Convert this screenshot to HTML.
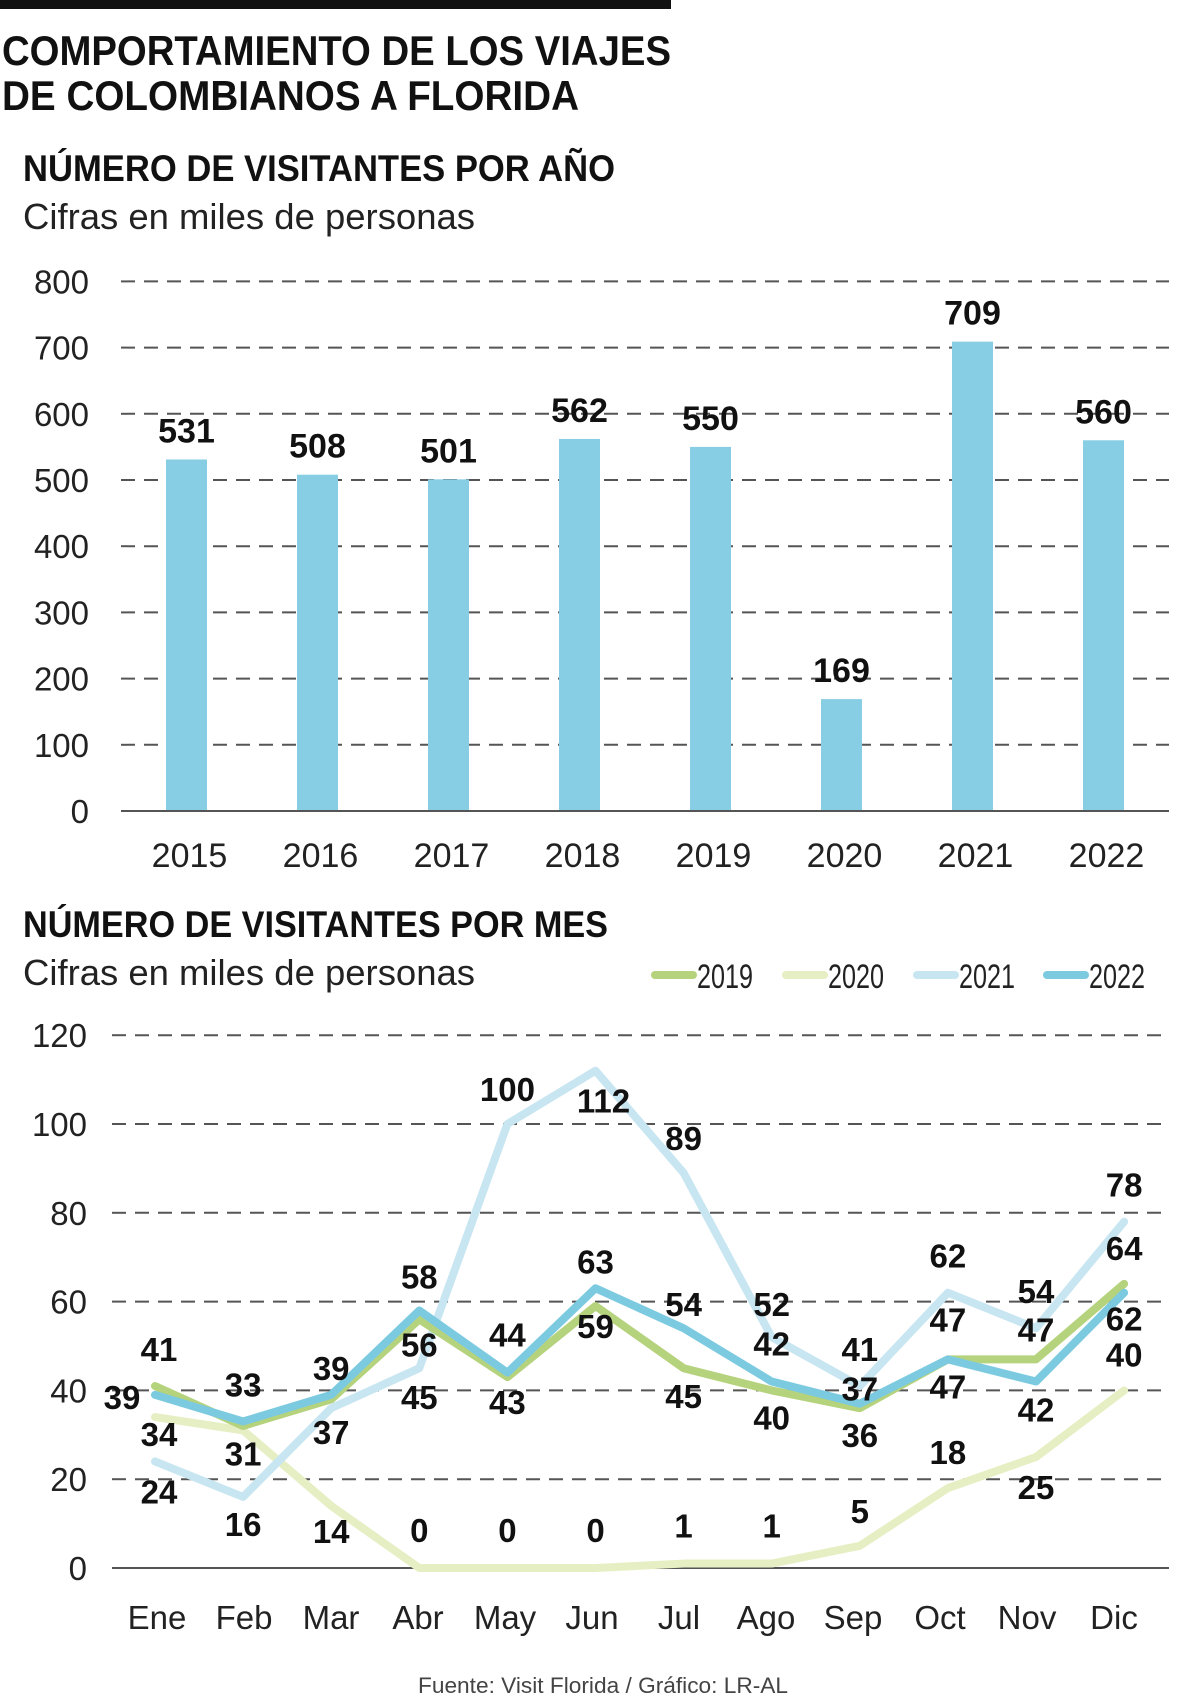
<!DOCTYPE html>
<html><head><meta charset="utf-8">
<style>
html,body{margin:0;padding:0;background:#fff;}
svg{display:block;font-family:"Liberation Sans",sans-serif;}
</style></head>
<body>
<svg id="chart" width="1200" height="1696" viewBox="0 0 1200 1696" xmlns="http://www.w3.org/2000/svg">
<rect x="0" y="0" width="671" height="9" fill="#111"/>
<text x="2" y="65" font-size="42" font-weight="bold" textLength="669" lengthAdjust="spacingAndGlyphs" fill="#111">COMPORTAMIENTO DE LOS VIAJES</text>
<text x="2" y="110" font-size="42" font-weight="bold" textLength="577" lengthAdjust="spacingAndGlyphs" fill="#111">DE COLOMBIANOS A FLORIDA</text>
<text x="23" y="181" font-size="37" font-weight="bold" textLength="592" lengthAdjust="spacingAndGlyphs" fill="#111">NÚMERO DE VISITANTES POR AÑO</text>
<text x="23" y="229" font-size="36" textLength="452" lengthAdjust="spacingAndGlyphs" fill="#222">Cifras en miles de personas</text>
<text x="23" y="937" font-size="37" font-weight="bold" textLength="585" lengthAdjust="spacingAndGlyphs" fill="#111">NÚMERO DE VISITANTES POR MES</text>
<text x="23" y="985" font-size="36" textLength="452" lengthAdjust="spacingAndGlyphs" fill="#222">Cifras en miles de personas</text>
<g id="bars"></g>
<g id="lines"></g>
<text x="603" y="1693" font-size="22" text-anchor="middle" textLength="370" lengthAdjust="spacingAndGlyphs" fill="#444">Fuente: Visit Florida / Gráfico: LR-AL</text>
</svg>
<script>
const years = ["2015","2016","2017","2018","2019","2020","2021","2022"];
const yearValues = [531,508,501,562,550,169,709,560];
const barTicks = [0,100,200,300,400,500,600,700,800];

const months = ["Ene","Feb","Mar","Abr","May","Jun","Jul","Ago","Sep","Oct","Nov","Dic"];
const v2019 = [41,32,38,56,43,59,45,40,36,47,47,64];
const v2020 = [34,31,14,0,0,0,1,1,5,18,25,40];
const v2021 = [24,16,36,45,100,112,89,52,41,62,54,78];
const v2022 = [39,33,39,58,44,63,54,42,37,47,42,62];
const lineTicks = [0,20,40,60,80,100,120];
const lab2019 = [41,null,null,56,43,59,45,40,36,47,47,64];
const lab2020 = [34,31,14,0,0,0,1,1,5,18,25,40];
const lab2021 = [24,16,37,45,100,112,89,52,41,62,54,78];
const lab2022 = [39,33,39,58,44,63,54,42,37,47,42,62];

const NS="http://www.w3.org/2000/svg";
function mk(tag, attrs, parent){const e=document.createElementNS(NS,tag);for(const k in attrs)e.setAttribute(k,attrs[k]);parent.appendChild(e);return e;}

// ---- bar chart
const bg=document.getElementById('bars');
const bY0=811, bPer=0.662, bX0=186.5, bStep=131, bW=41, gridR=1169;
const by=v=>bY0-v*bPer, bx=i=>bX0+i*bStep;
barTicks.forEach(t=>{
  const l=mk('line',{x1:121,x2:gridR,y1:by(t),y2:by(t),stroke:'#555','stroke-width':2},bg);
  if(t!==0) l.setAttribute('stroke-dasharray','14 9');
  
  
  const tx=mk('text',{x:89,y:by(t)+12,'font-size':33,'text-anchor':'end',fill:'#222'},bg);
  tx.textContent=t;
  
  
});
yearValues.forEach((v,i)=>{
  const r=mk('rect',{x:bx(i)-bW/2,y:by(v),width:bW,height:v*bPer,fill:'#87cde3'},bg);
  
  
  const lt=mk('text',{x:bx(i),y:by(v)-17,'font-size':34,'font-weight':'bold','text-anchor':'middle',fill:'#111'},bg);
  lt.textContent=v;
  
  
  const xt=mk('text',{x:bx(i)+3,y:867,'font-size':34,'text-anchor':'middle',fill:'#222'},bg);
  xt.textContent=years[i];
  
  
});
const bb=mk('line',{x1:121,x2:gridR,y1:bY0,y2:bY0,stroke:'#555','stroke-width':2},bg);



// ---- line chart
const lg=document.getElementById('lines');
const lY0=1568, lPer=4.44, lX0=155, lStep=88.1, mStep=87;
const ly=v=>lY0-v*lPer, lx=i=>lX0+i*lStep, mx=i=>lX0+i*mStep;
lineTicks.forEach(t=>{
  const l=mk('line',{x1:112,x2:gridR,y1:ly(t),y2:ly(t),stroke:'#555','stroke-width':2},lg);
  if(t!==0) l.setAttribute('stroke-dasharray','14 9');
  
  
  const tx=mk('text',{x:87,y:ly(t)+12,'font-size':33,'text-anchor':'end',fill:'#222'},lg);
  tx.textContent=t;
  
  
});
months.forEach((m,i)=>{
  const tx=mk('text',{x:mx(i)+2,y:1629,'font-size':33,'text-anchor':'middle',fill:'#222'},lg);
  tx.textContent=m;
  
  
});
const series=[
  {name:'2020',vals:v2020,col:'#e6efc3'},
  {name:'2021',vals:v2021,col:'#c8e6f1'},
  {name:'2019',vals:v2019,col:'#b5d27c'},
  {name:'2022',vals:v2022,col:'#7ccae0'}
];
series.forEach(s=>{
  const d=s.vals.map((v,i)=>(i?'L':'M')+lx(i)+' '+ly(v)).join(' ');
  const p=mk('path',{d:d,fill:'none',stroke:s.col,'stroke-width':8,'stroke-linejoin':'round','stroke-linecap':'round'},lg);
  
  
});
const off2019=[[4,-37],null,null,[0,25],[0,25],[0,20],[0,28],[0,27],[0,27],[0,-40],[0,-30],[0,-36]];
const off2020=[[4,17],[0,23],[0,25],[0,-38],[0,-38],[0,-38],[0,-38],[0,-38],[0,-35],[0,-36],[0,30],[0,-36]];
const off2021=[[4,30],[0,27],[0,24],[0,29],[0,-35],[8,30],[0,-35],[0,-33],[0,-37],[0,-37],[0,-37],[0,-37]];
const off2022=[[-33,2],[0,-37],[0,-27],[0,-34],[0,-38],[0,-27],[0,-24],[0,-38],[0,-15],[0,27],[0,28],[0,26]];
[[lab2019,v2019,off2019],[lab2020,v2020,off2020],[lab2021,v2021,off2021],[lab2022,v2022,off2022]].forEach(([labs,vals,offs])=>{
  labs.forEach((t,i)=>{
    if(t===null||!offs[i])return;
    const tx=mk('text',{x:lx(i)+offs[i][0],y:ly(vals[i])+offs[i][1]+12,'font-size':33,'font-weight':'bold','text-anchor':'middle',fill:'#111'},lg);
    tx.textContent=t;
    
    
  });
});
const legendX=[651,782,913,1043];
['2019','2020','2021','2022'].forEach((n,k)=>{
  const s=series.find(q=>q.name===n);
  const ln=mk('line',{x1:legendX[k]+4,x2:legendX[k]+42,y1:975,y2:975,stroke:s.col,'stroke-width':8,'stroke-linecap':'round'},lg);
  
  
  const tx=mk('text',{x:legendX[k]+46,y:988,'font-size':34,textLength:56,lengthAdjust:'spacingAndGlyphs',fill:'#222'},lg);
  tx.textContent=n;
  
  
});
</script>
</body></html>
